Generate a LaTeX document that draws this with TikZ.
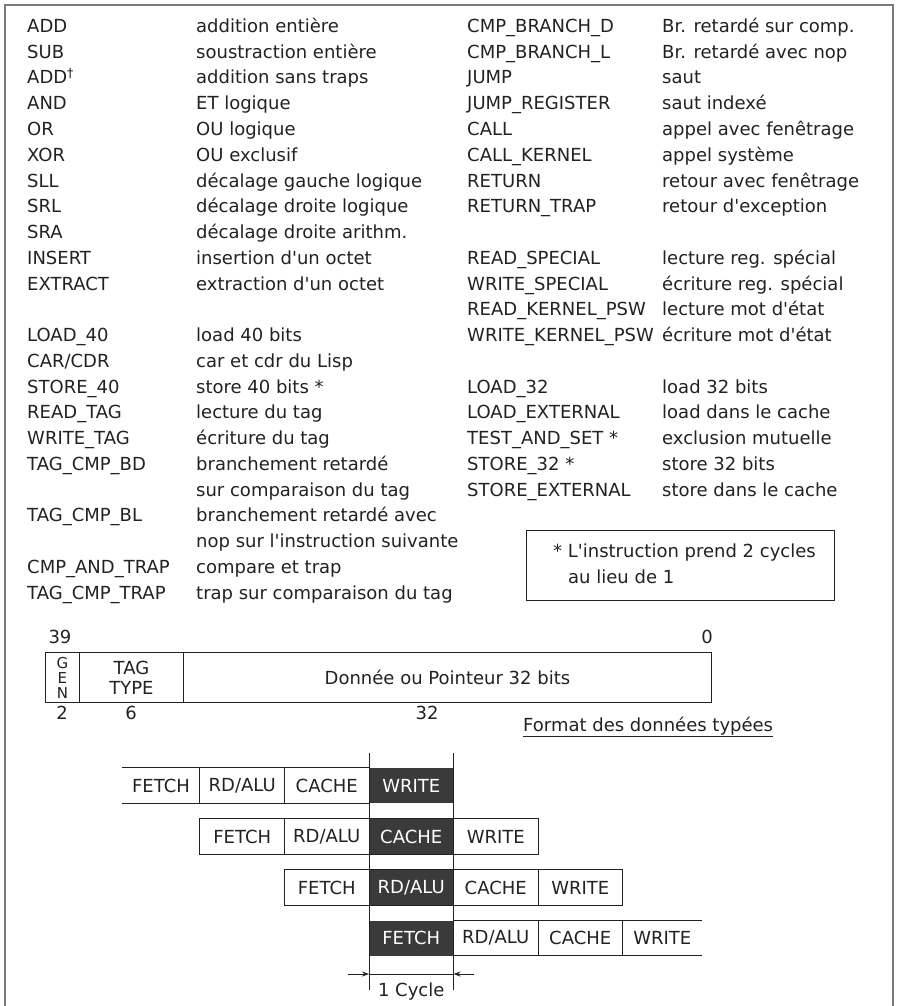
\documentclass[tikz,border=0pt]{standalone}
\usepackage{fontspec}
\setmainfont{DejaVu Sans}[Ligatures=TeXOff]
\usetikzlibrary{arrows.meta}
\definecolor{ink}{HTML}{222222}
\definecolor{darkcellfill}{HTML}{3A3A3A}
\definecolor{framegray}{HTML}{7A7A7A}
\newcommand{\mainfs}{\fontsize{18}{20}\selectfont}
\begin{document}
\begin{tikzpicture}[x=1pt,y=-1pt,
  every node/.style={inner sep=0pt, text=ink},
  txt/.style={anchor=base west, font=\mainfs},
  lbl/.style={anchor=base, font=\mainfs},
  cellbox/.style={minimum width=84.5pt, minimum height=35pt, font=\mainfs, anchor=center},
  darkcell/.style={cellbox, fill=darkcellfill, text=white},
  fld/.style={draw=ink, line width=0.9pt, minimum height=50pt, anchor=north west},
  rule/.style={draw=ink, line width=0.9pt},
  outerframe/.style={draw=framegray, line width=2.4pt},
]
\useasboundingbox (0,0) rectangle (899,1006);
\fill[white] (0,0) rectangle (899,1006);
\draw[outerframe] (5,1006) -- (5,5) -- (893,5) -- (893,1006);

% ---- left instruction list
\foreach \k/\p/\q in {0/ADD/addition entière, 1/SUB/soustraction entière,
  2/{ADD\textsuperscript{†}}/addition sans traps, 3/AND/ET logique,
  4/OR/OU logique, 5/XOR/OU exclusif, 6/SLL/décalage gauche logique,
  7/SRL/décalage droite logique, 8/SRA/décalage droite arithm.,
  9/INSERT/insertion d'un octet, 10/EXTRACT/extraction d'un octet,
  12/LOAD\_40/load 40 bits, 13/{CAR/CDR}/car et cdr du Lisp,
  14/STORE\_40/store 40 bits *, 15/READ\_TAG/lecture du tag,
  16/WRITE\_TAG/écriture du tag, 17/TAG\_CMP\_BD/branchement retardé,
  19/TAG\_CMP\_BL/branchement retardé avec, 21/CMP\_AND\_TRAP/compare et trap,
  22/TAG\_CMP\_TRAP/trap sur comparaison du tag}{
  \pgfmathsetmacro\yy{32.5+25.75*\k}
  \node[txt] (a\k) at (27,\yy) {\p};
  \node[txt] (b\k) at (196,\yy) {\q};
}
\node[txt] (b18) at (196,496) {sur comparaison du tag};
\node[txt] (b20) at (196,547.5) {nop sur l'instruction suivante};

% ---- right instruction list
\foreach \k/\p/\q in {0/CMP\_BRANCH\_D/Br. retardé sur comp., 1/CMP\_BRANCH\_L/Br. retardé avec nop,
  2/JUMP/saut, 3/JUMP\_REGISTER/saut indexé, 4/CALL/appel avec fenêtrage,
  5/CALL\_KERNEL/appel système, 6/RETURN/retour avec fenêtrage,
  7/RETURN\_TRAP/retour d'exception, 9/READ\_SPECIAL/lecture reg. spécial,
  10/WRITE\_SPECIAL/écriture reg. spécial, 11/READ\_KERNEL\_PSW/lecture mot d'état,
  12/WRITE\_KERNEL\_PSW/écriture mot d'état, 14/LOAD\_32/load 32 bits,
  15/LOAD\_EXTERNAL/load dans le cache, 16/TEST\_AND\_SET */exclusion mutuelle,
  17/STORE\_32 */store 32 bits, 18/STORE\_EXTERNAL/store dans le cache}{
  \pgfmathsetmacro\yy{32.5+25.75*\k}
  \node[txt] (c\k) at (467,\yy) {\p};
  \node[txt] (d\k) at (662,\yy) {\q};
}

% ---- note box
\node[draw=ink, line width=0.9pt, minimum width=308pt, minimum height=70pt, anchor=north west] (note) at (526,530) {};
\node[txt] (note1) at (553,557) {* L'instruction prend 2 cycles};
\node[txt] (note2) at (568,583) {au lieu de 1};

% ---- typed data format
\node[lbl] (b39) at (60,643) {39};
\node[lbl] (bzero) at (707,643) {0};
\node[fld, minimum width=34pt] (gen) at (45,652) {};
\node[fld, minimum width=104pt] (tag) at (79,652) {};
\node[fld, minimum width=528pt] (data) at (183,652) {};
\node[font=\fontsize{15}{15}\selectfont, align=center] (gentxt) at (gen.center) {G\\E\\N};
\node[font=\mainfs, align=center] (tagtxt) at (tag.center) {TAG\\TYPE};
\node[font=\mainfs] (datatxt) at (data.center) {Donnée ou Pointeur 32 bits};
\node[lbl] (w2) at (62,719) {2};
\node[lbl] (w6) at (131,719) {6};
\node[lbl] (w32) at (427,719) {32};
\node[txt] (fmt) at (523,731) {\underline{Format des données typées}};

% ---- pipeline
% row 1
\node[cellbox, minimum width=78pt] (f1) at (161,785.5) {FETCH};
\node[cellbox] (r1) at (242.25,785.5) {RD/ALU};
\node[cellbox] (k1) at (326.75,785.5) {CACHE};
\node[darkcell] (w1) at (411.25,785.5) {WRITE};
\draw[rule] (f1.north west) -- (k1.north east);
\draw[rule] (f1.south west) -- (k1.south east);
\draw[rule] (r1.north west) -- (r1.south west);
\draw[rule] (r1.north east) -- (r1.south east);
% row 2
\node[cellbox] (f2) at (242.25,836.5) {FETCH};
\node[cellbox] (r2) at (326.75,836.5) {RD/ALU};
\node[darkcell] (k2) at (411.25,836.5) {CACHE};
\node[cellbox] (wr2) at (495.75,836.5) {WRITE};
\draw[rule] (f2.north west) rectangle (wr2.south east);
\draw[rule] (f2.north east) -- (f2.south east);
% row 3
\node[cellbox] (f3) at (326.75,887.5) {FETCH};
\node[darkcell] (r3) at (411.25,887.5) {RD/ALU};
\node[cellbox] (k3) at (495.75,887.5) {CACHE};
\node[cellbox] (wr3) at (580.25,887.5) {WRITE};
\draw[rule] (f3.north west) rectangle (wr3.south east);
\draw[rule] (k3.north east) -- (k3.south east);
% row 4
\node[darkcell] (f4) at (411.25,938) {FETCH};
\node[cellbox] (r4) at (495.75,938) {RD/ALU};
\node[cellbox] (k4) at (580.25,938) {CACHE};
\node[cellbox, minimum width=79.5pt] (wr4) at (662.25,938) {WRITE};
\draw[rule] (f4.north east) -- (wr4.north east);
\draw[rule] (f4.south east) -- (wr4.south east);
\draw[rule] (r4.north east) -- (r4.south east);
\draw[rule] (k4.north east) -- (k4.south east);

% cycle guide lines
\coordinate (gt1) at (369,753);
\coordinate (gb1) at (369,990);
\coordinate (gt2) at (453.5,753);
\coordinate (gb2) at (453.5,990);
\draw[rule] (gt1) -- (gb1);
\draw[rule] (gt2) -- (gb2);

% 1 cycle dimension
\coordinate (da) at (348,974);
\coordinate (db) at (369,974);
\coordinate (dc) at (453.5,974);
\coordinate (dd) at (474,974);
\draw[rule, -{Stealth[length=7pt,width=5pt]}] (da) -- (db);
\draw[rule, -{Stealth[length=7pt,width=5pt]}] (dd) -- (dc);
\draw[rule] (db) -- (dc);
\node[lbl] (cyc) at (411.25,996) {1 Cycle};
\end{tikzpicture}
\end{document}
